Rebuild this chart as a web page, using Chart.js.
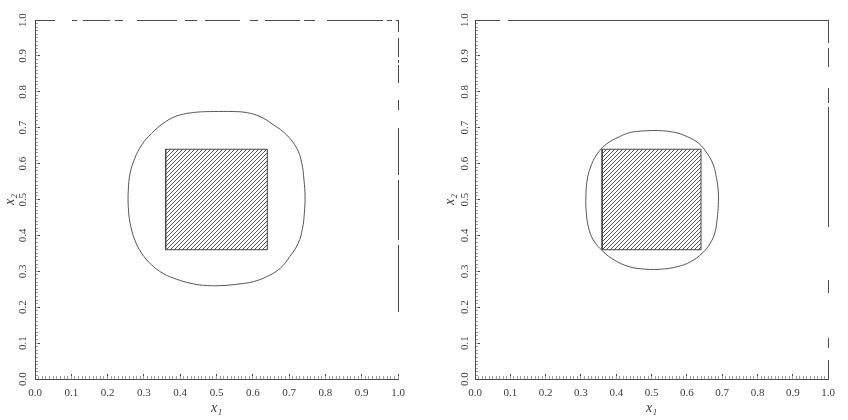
<!DOCTYPE html>
<html>
<head>
<meta charset="utf-8">
<script src="https://cdn.jsdelivr.net/npm/chart.js@4.4.0/dist/chart.umd.min.js"></script>
<style>
  body { margin: 0; background: #fff; width: 848px; height: 420px; overflow: hidden; position: relative; }
  canvas { position: absolute; top: 0; }
  #leftChart { left: 0; }
  #rightChart { left: 424px; }
</style>
</head>
<body>
<canvas id="leftChart" width="424" height="420"></canvas>
<canvas id="rightChart" width="424" height="420"></canvas>
<script>
// tick labels (shared by both axes of both panels)
const tickLabels = ['0.0', '0.1', '0.2', '0.3', '0.4', '0.5', '0.6', '0.7', '0.8', '0.9', '1.0'];

// hatched square (same in both panels)
const squareX = [0.36, 0.64, 0.64, 0.36, 0.36];
const squareY = [0.36, 0.36, 0.64, 0.64, 0.36];

// left panel: outer contour
const leftCurveX = [0.418, 0.455, 0.491, 0.546, 0.583, 0.620, 0.657, 0.693, 0.721, 0.735, 0.741, 0.744, 0.742,
  0.737, 0.725, 0.702, 0.675, 0.638, 0.601, 0.565, 0.510, 0.464, 0.427, 0.390, 0.353, 0.321, 0.294, 0.275,
  0.262, 0.257, 0.257, 0.262, 0.275, 0.294, 0.321, 0.353, 0.386, 0.418];
const leftCurveY = [0.740, 0.744, 0.745, 0.745, 0.742, 0.731, 0.708, 0.680, 0.643, 0.601, 0.554, 0.508, 0.462,
  0.420, 0.378, 0.341, 0.308, 0.285, 0.271, 0.265, 0.260, 0.261, 0.267, 0.278, 0.294, 0.318, 0.350, 0.387,
  0.434, 0.480, 0.526, 0.573, 0.615, 0.652, 0.684, 0.712, 0.731, 0.740];

// right panel: outer contour
const rightCurveX = [0.473, 0.519, 0.565, 0.601, 0.634, 0.657, 0.675, 0.684, 0.689, 0.689, 0.686, 0.680, 0.666,
  0.643, 0.611, 0.574, 0.528, 0.482, 0.436, 0.395, 0.363, 0.335, 0.321, 0.315, 0.314, 0.317, 0.326, 0.344,
  0.372, 0.409, 0.441, 0.473];
const rightCurveY = [0.691, 0.692, 0.687, 0.675, 0.656, 0.629, 0.596, 0.559, 0.522, 0.485, 0.448, 0.410, 0.378,
  0.350, 0.327, 0.313, 0.306, 0.306, 0.313, 0.331, 0.355, 0.387, 0.424, 0.466, 0.508, 0.550, 0.587, 0.624,
  0.654, 0.675, 0.687, 0.691];

const axisColor = '#4a4a4a';
const minorColor = '#a0a0a0';
const textColor = '#3a3a3a';
const tickFont = { family: "'Liberation Serif', serif", size: 11 };
const titleFont = { family: "'Liberation Serif', serif", size: 14, style: 'italic' };

function toPoints(xs, ys) {
  return xs.map((x, i) => ({ x: x, y: ys[i] }));
}

function hatch(ctx) {
  const c = document.createElement('canvas');
  c.width = 4;
  c.height = 4;
  const g = c.getContext('2d');
  g.strokeStyle = '#555';
  g.lineWidth = 1;
  g.beginPath();
  g.moveTo(0, 4); g.lineTo(4, 0);
  g.moveTo(-1, 1); g.lineTo(1, -1);
  g.moveTo(3, 5); g.lineTo(5, 3);
  g.stroke();
  return ctx.createPattern(c, 'repeat');
}

// only the grid line at value 1 is drawn: it is the top / right side of the frame
const frameLine = c => (c.tick && c.tick.value === 1 ? axisColor : 'rgba(0,0,0,0)');

function makeChart(id, curveX, curveY, cfg) {
  const ctx = document.getElementById(id).getContext('2d');
  const label = v => tickLabels[Math.round(v * 10)];
  return new Chart(ctx, {
    type: 'scatter',
    data: {
      datasets: [
        {
          data: toPoints(squareX, squareY),
          showLine: true,
          fill: 'shape',
          backgroundColor: hatch(ctx),
          borderColor: '#444',
          borderWidth: 1,
          pointRadius: 0,
          tension: 0
        },
        {
          data: toPoints(curveX, curveY),
          showLine: true,
          fill: false,
          borderColor: '#555',
          borderWidth: 1,
          pointRadius: 0,
          tension: 0.4
        }
      ]
    },
    options: {
      animation: false,
      responsive: false,
      layout: { padding: { top: 20, right: cfg.padRight, left: 0, bottom: 0 } },
      plugins: { legend: { display: false }, tooltip: { enabled: false } },
      scales: {
        x: {
          type: 'linear', position: 'bottom', min: 0, max: 1, weight: 1,
          afterFit: s => { s.height = 41; },
          ticks: { stepSize: 0.1, autoSkip: false, maxRotation: 0, padding: 13, color: textColor, font: tickFont, callback: label },
          grid: { drawOnChartArea: false, tickLength: -5, color: axisColor },
          border: { color: axisColor },
          title: { display: true, text: 'x₁', color: textColor, font: titleFont, padding: { top: 0, bottom: 3 } }
        },
        xm: {
          type: 'linear', position: 'bottom', min: 0, max: 1, weight: 0,
          afterFit: s => { s.height = 0; },
          ticks: { stepSize: 0.01, display: false },
          grid: { drawOnChartArea: false, tickLength: -3, color: minorColor },
          border: { display: false }
        },
        xt: {
          type: 'linear', position: 'top', min: 0, max: 1,
          afterFit: s => { s.height = 0; },
          ticks: { stepSize: 1, display: false },
          grid: { drawOnChartArea: true, drawTicks: false, color: frameLine },
          border: { display: false, dash: cfg.rightDash }
        },
        y: {
          type: 'linear', position: 'left', min: 0, max: 1, weight: 1,
          afterFit: s => { s.width = cfg.yWidth; },
          ticks: { stepSize: 0.1, autoSkip: false, minRotation: 90, maxRotation: 90, crossAlign: 'center', padding: cfg.yTickPad, color: textColor, font: tickFont, callback: label },
          grid: { drawOnChartArea: false, tickLength: -5, color: axisColor },
          border: { color: axisColor },
          title: { display: true, text: 'x₂', color: textColor, font: titleFont, padding: { top: cfg.yTitlePad, bottom: 0 } }
        },
        ym: {
          type: 'linear', position: 'left', min: 0, max: 1, weight: 0,
          afterFit: s => { s.width = 0; },
          ticks: { stepSize: 0.01, display: false },
          grid: { drawOnChartArea: false, tickLength: -3, color: minorColor },
          border: { display: false }
        },
        yr: {
          type: 'linear', position: 'right', min: 0, max: 1,
          afterFit: s => { s.width = 0; },
          ticks: { stepSize: 1, display: false },
          grid: { drawOnChartArea: true, drawTicks: false, color: frameLine },
          border: { display: false, dash: cfg.topDash }
        }
      }
    }
  });
}

makeChart('leftChart', leftCurveX, leftCurveY, {
  padRight: 26, yWidth: 35, yTickPad: 10, yTitlePad: 1.6,
  topDash: [20, 17, 5, 6, 27, 5, 8, 14, 40, 8, 12, 8, 35, 10, 8, 7, 35, 4, 11, 12, 56, 4, 5, 4, 2],
  rightDash: [12, 6, 19, 3, 3, 2, 18, 17, 10, 18, 47, 5, 60, 5, 67, 80]
});

makeChart('rightChart', rightCurveX, rightCurveY, {
  padRight: 10, yWidth: 51, yTickPad: 8, yTitlePad: 17.6,
  topDash: [25, 8, 400],
  rightDash: [23, 5, 19, 21, 15, 4, 120, 53, 13, 45, 10, 12, 20, 20]
});
</script>
</body>
</html>
